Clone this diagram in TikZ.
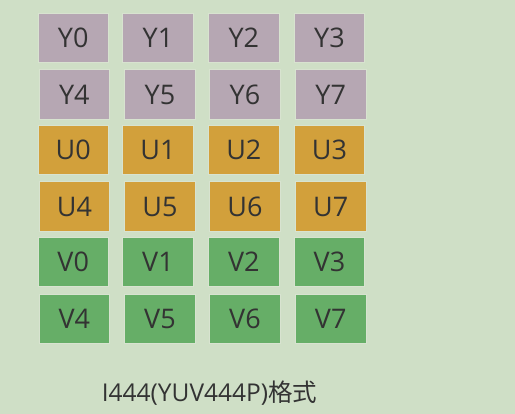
\documentclass[tikz,border=0pt]{standalone}
\usepackage{fontspec}
\setmainfont{Open Sans}
\newfontfamily\cjkfont{Noto Sans CJK SC}
\definecolor{bg}{HTML}{CFDFC6}
\definecolor{ycol}{HTML}{B6A7B3}
\definecolor{ucol}{HTML}{D2A03B}
\definecolor{vcol}{HTML}{66AE67}
\definecolor{txt}{HTML}{333333}
\definecolor{edge}{HTML}{D8E3D0}
\begin{document}
\begin{tikzpicture}[x=1pt,y=-1pt,
  cell/.style={minimum width=70.5pt,minimum height=49.5pt,inner sep=0pt,draw=edge,line width=0.6pt,text=txt,font=\fontsize{27}{30}\selectfont},
  ycell/.style={cell,fill=ycol},
  ucell/.style={cell,fill=ucol},
  vcell/.style={cell,fill=vcol}]
\fill[bg] (0,0) rectangle (515,414);
\useasboundingbox (0,0) rectangle (515,414);
% even rows
\foreach \c/\y/\p in {ycell/37.6/Y,ucell/150/U,vcell/262/V}{
  \foreach \i/\x in {0/73.2,1/158,2/243.8,3/329.5}{
    \node[\c] (\p\i) at (\x,\y) {\p\i};
  }
}
% odd rows
\foreach \c/\y/\p in {ycell/94.5/Y,ucell/206.5/U,vcell/318.7/V}{
  \foreach \i/\x in {4/74.4,5/160,6/245,7/330.7}{
    \node[\c] (\p\i) at (\x,\y) {\p\i};
  }
}
\node[text=txt,font=\fontsize{24.5}{27}\selectfont,inner sep=0pt,anchor=base] (cap) at (209.5,401.5) {I444(YUV444P){\cjkfont 格式}};
\end{tikzpicture}
\end{document}
